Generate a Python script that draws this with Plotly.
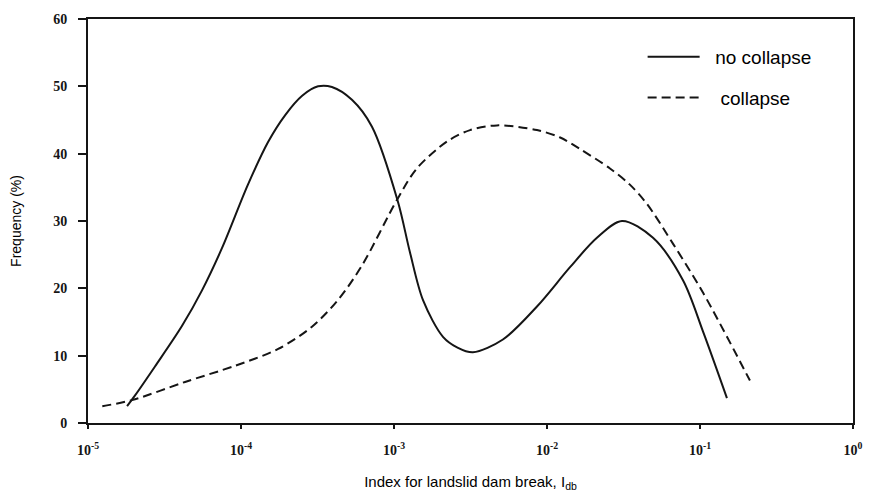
import plotly.graph_objects as go

# no collapse (solid)
nc_x = [1.80e-5, 2.03e-5, 2.74e-5, 4.11e-5, 5.56e-5, 7.52e-5, 1.11e-4, 1.50e-4, 1.94e-4,
        2.51e-4, 3.19e-4, 3.93e-4, 5.31e-4, 7.18e-4, 1.06e-3, 1.27e-3, 1.55e-3,
        2.09e-3, 2.60e-3, 3.28e-3, 5.15e-3, 8.60e-3, 1.41e-2, 2.12e-2, 3.09e-2, 4.93e-2,
        7.74e-2, 0.105, 0.150]
nc_y = [2.5, 4.1, 8.4, 14.4, 19.7, 26.0, 35.4, 41.7, 45.7,
        48.6, 50.0, 49.9, 48.0, 44.0, 32.9, 25.4, 18.2,
        12.8, 11.2, 10.5, 12.4, 17.3, 23.1, 27.5, 30.0, 27.5,
        21.2, 13.5, 3.7]

# collapse (dashed)
c_x = [1.24e-5, 1.94e-5, 4.31e-5, 9.14e-5, 1.75e-4, 2.91e-4, 4.31e-4, 6.18e-4,
       1.05e-3, 1.41e-3, 2.22e-3, 3.14e-3, 4.71e-3, 8.60e-3, 1.22e-2, 1.64e-2, 2.58e-2,
       3.48e-2, 4.51e-2, 6.67e-2, 0.105, 0.212]
c_y = [2.5, 3.4, 6.1, 8.5, 11.0, 14.3, 18.3, 23.4,
       33.2, 37.8, 41.8, 43.5, 44.2, 43.5, 42.4, 40.7, 37.8,
       35.4, 32.5, 26.6, 19.3, 6.3]

x_tickvals = [1e-5, 1e-4, 1e-3, 1e-2, 1e-1, 1e0]
x_ticktext = ["10<sup>-5</sup>", "10<sup>-4</sup>", "10<sup>-3</sup>",
              "10<sup>-2</sup>", "10<sup>-1</sup>", "10<sup>0</sup>"]
y_tickvals = [0, 10, 20, 30, 40, 50, 60]

ink = "#151515"

fig = go.Figure()
fig.add_trace(go.Scatter(x=nc_x, y=nc_y, mode="lines", name="  no collapse",
                         legendgroup="a",
                         line=dict(color=ink, width=2, shape="spline", smoothing=0.9)))
fig.add_trace(go.Scatter(x=c_x, y=c_y, mode="lines", name="   collapse",
                         legendgroup="b",
                         line=dict(color=ink, width=2, dash="9px,5px", shape="spline", smoothing=0.9)))

tickfont = dict(family="Liberation Serif", size=14, color=ink, weight="bold")

fig.update_layout(
    width=877, height=500,
    margin=dict(l=88, r=24, t=15, b=75),
    paper_bgcolor="white", plot_bgcolor="white",
    showlegend=True,
    legend=dict(x=0.725, y=0.953, xanchor="left", yanchor="top",
                bgcolor="rgba(0,0,0,0)", borderwidth=0,
                font=dict(family="Liberation Sans", size=19, color="black"),
                tracegroupgap=13, itemwidth=52),
    xaxis=dict(type="log", range=[-5, 0], tickvals=x_tickvals, ticktext=x_ticktext,
               showgrid=False, zeroline=False, showline=True, linecolor=ink, linewidth=2,
               mirror=True, ticks="outside", ticklen=4, tickwidth=2, tickcolor=ink,
               tickfont=tickfont, ticklabelstandoff=9,
               title=dict(text="Index for landslid dam break, I<sub>db</sub>",
                          font=dict(family="Liberation Sans", size=15, color="black"),
                          standoff=20)),
    yaxis=dict(range=[0, 60], tickvals=y_tickvals,
               showgrid=False, zeroline=False, showline=True, linecolor=ink, linewidth=2,
               mirror=True, ticks="outside", ticklen=8, tickwidth=2, tickcolor=ink,
               tickfont=tickfont, ticklabelstandoff=8,
               title=dict(text="Frequency (%)",
                          font=dict(family="Liberation Sans", size=14, color="black"),
                          standoff=28)),
)

fig.write_html("out.html")
